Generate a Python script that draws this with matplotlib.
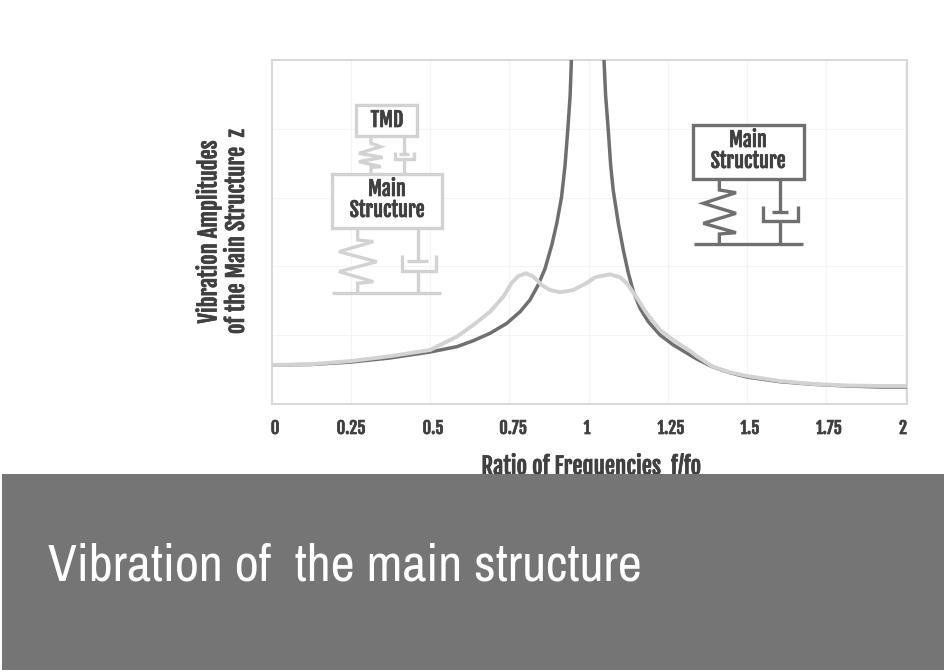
import matplotlib
matplotlib.use("Agg")
import matplotlib.pyplot as plt
import matplotlib.patheffects as pe
from matplotlib.patches import Rectangle

# ---- data (x = frequency ratio, y = amplitude in grid units) ----
x_ticks = [0, 0.25, 0.5, 0.75, 1, 1.25, 1.5, 1.75, 2]
x_tick_labels = ["0", "0.25", "0.5", "0.75", "1", "1.25", "1.5", "1.75", "2"]
nan = float("nan")
without_tmd_x = [0, 0.123, 0.25, 0.373, 0.50, 0.584, 0.636, 0.689, 0.742, 0.784, 0.815, 0.841, 0.863, 0.884, 0.900,
                 0.915, 0.926, 0.935, 0.942, 0.946, 1.0,
                 1.049, 1.054, 1.062, 1.070, 1.078, 1.094, 1.110, 1.126, 1.142, 1.163, 1.189, 1.226, 1.268, 1.321,
                 1.342, 1.393, 1.447, 1.500, 1.605, 1.709, 1.816, 1.921, 2.005]
without_tmd_y = [0.567, 0.574, 0.610, 0.669, 0.756, 0.833, 0.920, 1.028, 1.173, 1.342, 1.512, 1.730, 1.972, 2.311, 2.631,
                 3.013, 3.474, 4.012, 4.491, 5.0, nan,
                 5.0, 4.491, 4.012, 3.474, 3.110, 2.631, 2.238, 1.900, 1.632, 1.391, 1.196, 1.003, 0.858, 0.712,
                 0.654, 0.538, 0.455, 0.392, 0.324, 0.286, 0.262, 0.247, 0.247]
with_tmd_x = [0, 0.123, 0.25, 0.373, 0.50, 0.531, 0.584, 0.636, 0.689, 0.731, 0.757, 0.778, 0.803, 0.826, 0.852, 0.878,
              0.910, 0.952, 0.989, 1.021, 1.068, 1.100, 1.121, 1.147, 1.184, 1.226, 1.268, 1.321, 1.342, 1.393,
              1.447, 1.500, 1.605, 1.709, 1.816, 1.921, 2.005]
with_tmd_y = [0.567, 0.578, 0.625, 0.695, 0.785, 0.858, 0.978, 1.148, 1.342, 1.560, 1.759, 1.860, 1.900, 1.850, 1.730, 1.657,
              1.624, 1.657, 1.744, 1.842, 1.885, 1.842, 1.754, 1.584, 1.318, 1.076, 0.930, 0.770, 0.695, 0.542,
              0.461, 0.407, 0.334, 0.291, 0.269, 0.262, 0.262]

DARK = "#6f6f6f"
LIGHT = "#d2d2d2"
TEXT = "#404040"
BAND = "#757575"
HEAVY = ["Fjalla One", "Anton", "Liberation Sans", "DejaVu Sans"]
THIN = ["Archivo Narrow", "Liberation Sans", "DejaVu Sans"]
EMBOLDEN = [pe.withStroke(linewidth=0.5, foreground=TEXT)]

W, H = 944, 672
fig = plt.figure(figsize=(W / 100, H / 100), dpi=100, facecolor="white")

# main axes
L, R, T, B = 272, 907, 60, 404
ax = fig.add_axes([L / W, 1 - B / H, (R - L) / W, (B - T) / H])
ax.set_xlim(0, (R - L) / 316.5)
ax.set_ylim(0, 5)
ax.set_xticks(x_ticks)
ax.set_xticklabels([])
ax.set_yticks(range(6))
ax.set_yticklabels([])
ax.tick_params(length=0)
ax.grid(True, color="#f4f4f4", lw=0.8)
ax.set_axisbelow(True)
for s in ax.spines.values():
    s.set_color("#d8d8d8")
    s.set_linewidth(1.4)
ax.plot(without_tmd_x, without_tmd_y, color=DARK, lw=2.5, solid_joinstyle="round", zorder=3)
ax.plot(with_tmd_x, with_tmd_y, color=LIGHT, lw=2.8, solid_joinstyle="round", zorder=4)

# overlay in image pixels
ov = fig.add_axes([0, 0, 1, 1], facecolor="none")
ov.set_xlim(0, W)
ov.set_ylim(H, 0)
ov.axis("off")

tick_label_px = [275, 351, 433, 513, 587, 671, 750, 829, 903]
for px, s in zip(tick_label_px, x_tick_labels):
    ov.text(px, 428, s, ha="center", va="center", family=HEAVY, size=12, color=TEXT, path_effects=EMBOLDEN)


def box(x0, y0, x1, y1, c):
    ov.add_patch(Rectangle((x0, y0), x1 - x0, y1 - y0, fc="white", ec=c, lw=2.4, zorder=5))


def line(xs, ys, c, lw=2.4):
    ov.plot(xs, ys, color=c, lw=lw, solid_joinstyle="miter", solid_capstyle="butt", zorder=5)


def label(x, y, s, size=14.5):
    ov.text(x, y, s, ha="center", va="center", family=HEAVY, size=size, color=TEXT, zorder=6, path_effects=EMBOLDEN)


def zoom1(pts):
    return [190 + p[0] / 3 for p in pts], [50 + p[1] / 3 for p in pts]


def zoom2(pts):
    return [640 + p[0] / 3 for p in pts], [50 + p[1] / 3 for p in pts]


# left schematic (with TMD)
box(356, 105, 417, 136, LIGHT)
box(332, 174, 442, 228, LIGHT)
line(*zoom1([(543, 257), (543, 280), (572, 290), (507, 310), (578, 322), (507, 335), (572, 350), (543, 352), (543, 372)]), LIGHT)
line(*zoom1([(643, 257), (643, 312)]), LIGHT)
line(*zoom1([(628, 312), (658, 312)]), LIGHT)
line(*zoom1([(615, 305), (615, 328), (672, 328), (672, 305)]), LIGHT)
line(*zoom1([(643, 328), (643, 372)]), LIGHT)
line(*zoom1([(503, 535), (503, 570), (550, 575), (447, 605), (560, 635), (447, 665), (550, 695), (503, 700), (503, 730)]), LIGHT)
line(*zoom1([(427, 730), (752, 730)]), LIGHT)
line(*zoom1([(685, 535), (685, 632)]), LIGHT)
line(*zoom1([(652, 632), (715, 632)]), LIGHT)
line(*zoom1([(637, 615), (637, 662), (738, 662), (738, 615)]), LIGHT)
line(*zoom1([(685, 662), (685, 730)]), LIGHT)
label(387, 120, "TMD")
label(387, 189, "Main")
label(387, 210, "Structure")

# right schematic (main structure only)
box(693, 125, 804, 179, DARK)
line(*zoom2([(238, 388), (238, 420), (288, 428), (190, 460), (288, 490), (190, 520), (288, 548), (238, 552), (238, 582)]), DARK)
line(*zoom2([(162, 582), (490, 582)]), DARK)
line(*zoom2([(419, 388), (419, 487)]), DARK)
line(*zoom2([(395, 487), (443, 487)]), DARK)
line(*zoom2([(370, 467), (370, 514), (473, 514), (473, 467)]), DARK)
line(*zoom2([(419, 514), (419, 582)]), DARK)
label(748, 140, "Main")
label(748, 161, "Structure")

# axis titles
ov.text(208, 232, "Vibration Amplitudes", rotation=90, ha="center", va="center", family=HEAVY, size=16.3, color=TEXT, path_effects=EMBOLDEN)
ov.text(236, 232, "of the Main Structure  z", rotation=90, ha="center", va="center", family=HEAVY, size=16.3, color=TEXT, path_effects=EMBOLDEN)
ov.text(591, 466, "Ratio of Frequencies  f/fo", ha="center", va="center", family=HEAVY, size=16.5, color=TEXT, zorder=2, path_effects=EMBOLDEN)

# title band
ov.add_patch(Rectangle((2, 474), W - 2, 196, fc=BAND, ec="none", zorder=8))
ov.text(48, 566, "Vibration of  the main structure", ha="left", va="center", family=THIN, size=37.8, color="white", zorder=9)

fig.savefig("out.png", dpi=100, facecolor="white")
